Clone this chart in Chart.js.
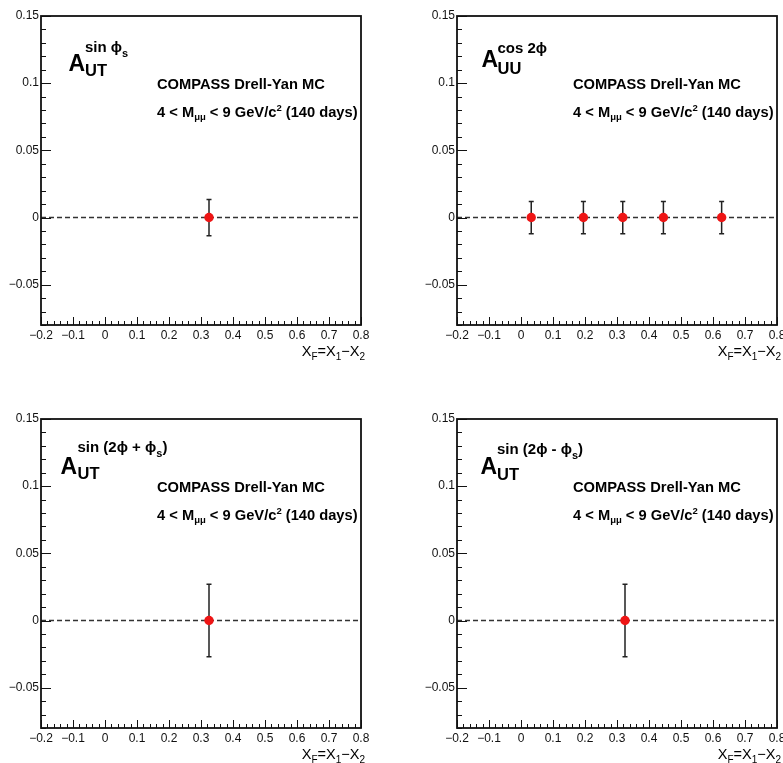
<!DOCTYPE html>
<html lang="en">
  <head>
    <meta charset="UTF-8" />
    <title>COMPASS Drell-Yan MC asymmetries</title>
    <script src="https://cdn.jsdelivr.net/npm/chart.js@4.4.1/dist/chart.umd.min.js"></script>
    <style>
      html,
      body {
        margin: 0;
        padding: 0;
        background: #fff;
        overflow: hidden;
        width: 783px;
        height: 763px;
      }
      .panel {
        position: absolute;
        width: 400px;
        height: 400px;
      }
    </style>
  </head>
  <body>
    <div class="panel" style="left: 0; top: 0"><canvas id="c1" width="400" height="400"></canvas></div>
    <div class="panel" style="left: 416px; top: 0"><canvas id="c2" width="400" height="400"></canvas></div>
    <div class="panel" style="left: 0; top: 403px"><canvas id="c3" width="400" height="400"></canvas></div>
    <div class="panel" style="left: 416px; top: 403px"><canvas id="c4" width="400" height="400"></canvas></div>
    <script>
      // axis ranges and tick labels
      const xMin = -0.2;
      const xMax = 0.8;
      const yMin = -0.08;
      const yMax = 0.15;
      const xTicks = [-0.2, -0.1, 0, 0.1, 0.2, 0.3, 0.4, 0.5, 0.6, 0.7, 0.8];
      const yTicks = [-0.05, 0, 0.05, 0.1, 0.15];

      // A_UT^sin(phi_s)
      const sinPhiSX = [0.325];
      const sinPhiSY = [0];
      const sinPhiSErr = [0.0135];

      // A_UU^cos(2phi)
      const cos2PhiX = [0.032, 0.195, 0.318, 0.445, 0.627];
      const cos2PhiY = [0, 0, 0, 0, 0];
      const cos2PhiErr = [0.012, 0.012, 0.012, 0.012, 0.012];

      // A_UT^sin(2phi + phi_s)
      const sin2PhiPlusX = [0.325];
      const sin2PhiPlusY = [0];
      const sin2PhiPlusErr = [0.027];

      // A_UT^sin(2phi - phi_s)
      const sin2PhiMinusX = [0.325];
      const sin2PhiMinusY = [0];
      const sin2PhiMinusErr = [0.027];

      const FONT = '"Liberation Sans", Arial, Helvetica, sans-serif';
      const markerColor = "#ee1515";

      function fmt(v) {
        if (v === 0) return "0";
        return (v < 0 ? "\u2212" : "") + String(Math.abs(v));
      }

      // draws pieces of text one after the other: [text, size, dy, bold]
      function drawParts(ctx, x, y, parts) {
        let cx = x;
        parts.forEach(function (p) {
          ctx.font = (p[3] === false ? "" : "bold ") + p[1] + "px " + FONT;
          ctx.fillText(p[0], cx, y + p[2]);
          cx += ctx.measureText(p[0]).width;
        });
        return cx - x;
      }

      function partsWidth(ctx, parts) {
        let w = 0;
        parts.forEach(function (p) {
          ctx.font = (p[3] === false ? "" : "bold ") + p[1] + "px " + FONT;
          w += ctx.measureText(p[0]).width;
        });
        return w;
      }

      const rootPad = {
        id: "rootPad",
        beforeDatasetsDraw(chart) {
          const ctx = chart.ctx;
          const area = chart.chartArea;
          const ys = chart.scales.y;
          const y0 = ys.getPixelForValue(0);
          ctx.save();
          // dashed line at zero
          ctx.strokeStyle = "#333";
          ctx.lineWidth = 1.4;
          ctx.setLineDash([5, 3]);
          ctx.beginPath();
          ctx.moveTo(area.left, y0);
          ctx.lineTo(area.right, y0);
          ctx.stroke();
          ctx.setLineDash([]);
          // error bars
          ctx.strokeStyle = "#222";
          ctx.lineWidth = 1.5;
          chart.data.datasets.forEach(function (ds, di) {
            const meta = chart.getDatasetMeta(di);
            ds.data.forEach(function (pt, i) {
              const px = meta.data[i].x;
              const top = ys.getPixelForValue(pt.y + ds.errors[i]);
              const bot = ys.getPixelForValue(pt.y - ds.errors[i]);
              ctx.beginPath();
              ctx.moveTo(px, top);
              ctx.lineTo(px, bot);
              ctx.moveTo(px - 2.5, top);
              ctx.lineTo(px + 2.5, top);
              ctx.moveTo(px - 2.5, bot);
              ctx.lineTo(px + 2.5, bot);
              ctx.stroke();
            });
          });
          ctx.restore();
        },
        afterDraw(chart, args, opts) {
          const ctx = chart.ctx;
          const area = chart.chartArea;
          const xs = chart.scales.x;
          const ys = chart.scales.y;
          ctx.save();
          ctx.strokeStyle = "#111";
          // ticks, pointing inwards
          ctx.lineWidth = 1;
          ctx.beginPath();
          for (let i = -20; i <= 80; i += 2) {
            const px = Math.round(xs.getPixelForValue(i / 100)) + 0.5;
            const len = i % 10 === 0 ? 8 : 4;
            ctx.moveTo(px, area.bottom);
            ctx.lineTo(px, area.bottom - len);
          }
          for (let i = -8; i <= 15; i++) {
            const py = Math.round(ys.getPixelForValue(i / 100)) + 0.5;
            const len = i % 5 === 0 ? 10 : 5;
            ctx.moveTo(area.left, py);
            ctx.lineTo(area.left + len, py);
          }
          ctx.stroke();
          // frame
          ctx.lineWidth = 1.8;
          ctx.strokeRect(area.left, area.top, area.right - area.left, area.bottom - area.top);

          // labels
          ctx.fillStyle = "#000";
          ctx.textBaseline = "alphabetic";
          const t = opts.title;
          drawParts(ctx, area.left + t.a[0], area.top + t.a[1], [["A", 23, 0]]);
          drawParts(ctx, area.left + t.sup[0], area.top + t.sup[1], t.supParts);
          drawParts(ctx, area.left + t.sub[0], area.top + t.sub[1], [[t.subText, 16.5, 0]]);

          drawParts(ctx, area.left + 116, area.top + 72.5, [["COMPASS Drell-Yan MC", 14.7, 0]]);
          drawParts(ctx, area.left + 116, area.top + 100.5, [
            ["4 < M", 14.7, 0],
            ["\u03bc\u03bc", 9.5, 3],
            [" < 9 GeV/c", 14.7, 0],
            ["2", 9.5, -6],
            [" (140 days)", 14.7, 0],
          ]);

          // x axis title
          const xt = [
            ["X", 14.5, 0, false],
            ["F", 10, 4, false],
            ["=X", 14.5, 0, false],
            ["1", 10, 4, false],
            ["\u2212X", 14.5, 0, false],
            ["2", 10, 4, false],
          ];
          const w = partsWidth(ctx, xt);
          drawParts(ctx, area.right + 4 - w, area.bottom + 31, xt);
          ctx.restore();
        },
      };

      function makePanel(id, xs, ys, errs, title) {
        const points = xs.map(function (x, i) {
          return { x: x, y: ys[i] };
        });
        return new Chart(document.getElementById(id), {
          type: "scatter",
          data: {
            datasets: [
              {
                data: points,
                errors: errs,
                backgroundColor: markerColor,
                borderWidth: 0,
                pointRadius: 4.7,
              },
            ],
          },
          options: {
            responsive: false,
            animation: false,
            layout: { padding: { top: 16, right: 39, left: 0, bottom: 0 } },
            plugins: {
              legend: { display: false },
              tooltip: { enabled: false },
              rootPad: { title: title },
            },
            scales: {
              x: {
                type: "linear",
                min: xMin,
                max: xMax,
                grid: { display: false, drawTicks: false },
                border: { display: false },
                afterBuildTicks: function (s) {
                  s.ticks = xTicks.map(function (v) {
                    return { value: v };
                  });
                },
                afterFit: function (s) {
                  s.height = 75;
                },
                ticks: {
                  padding: 3,
                  color: "#111",
                  maxRotation: 0,
                  autoSkip: false,
                  font: { family: FONT, size: 12 },
                  callback: fmt,
                },
              },
              y: {
                type: "linear",
                min: yMin,
                max: yMax,
                grid: { display: false, drawTicks: false },
                border: { display: false },
                afterBuildTicks: function (s) {
                  s.ticks = yTicks.map(function (v) {
                    return { value: v };
                  });
                },
                afterFit: function (s) {
                  s.width = 41;
                },
                ticks: {
                  padding: 2,
                  color: "#111",
                  autoSkip: false,
                  font: { family: FONT, size: 12 },
                  callback: fmt,
                },
              },
            },
          },
          plugins: [rootPad],
        });
      }

      makePanel("c1", sinPhiSX, sinPhiSY, sinPhiSErr, {
        a: [27.5, 55],
        sup: [44, 36],
        supParts: [
          ["sin \u03d5", 15, 0],
          ["s", 11, 5],
        ],
        sub: [44, 59.5],
        subText: "UT",
      });
      makePanel("c2", cos2PhiX, cos2PhiY, cos2PhiErr, {
        a: [24.5, 51],
        sup: [40.5, 37],
        supParts: [["cos 2\u03d5", 15, 0]],
        sub: [40.5, 57.5],
        subText: "UU",
      });
      makePanel("c3", sin2PhiPlusX, sin2PhiPlusY, sin2PhiPlusErr, {
        a: [19.5, 54.5],
        sup: [36.5, 33],
        supParts: [
          ["sin (2\u03d5 + \u03d5", 15, 0],
          ["s", 11, 5],
          [")", 15, 0],
        ],
        sub: [36.5, 60],
        subText: "UT",
      });
      makePanel("c4", sin2PhiMinusX, sin2PhiMinusY, sin2PhiMinusErr, {
        a: [23.5, 54.5],
        sup: [40, 34.5],
        supParts: [
          ["sin (2\u03d5 - \u03d5", 15, 0],
          ["s", 11, 5],
          [")", 15, 0],
        ],
        sub: [40, 60.5],
        subText: "UT",
      });
    </script>
  </body>
</html>
